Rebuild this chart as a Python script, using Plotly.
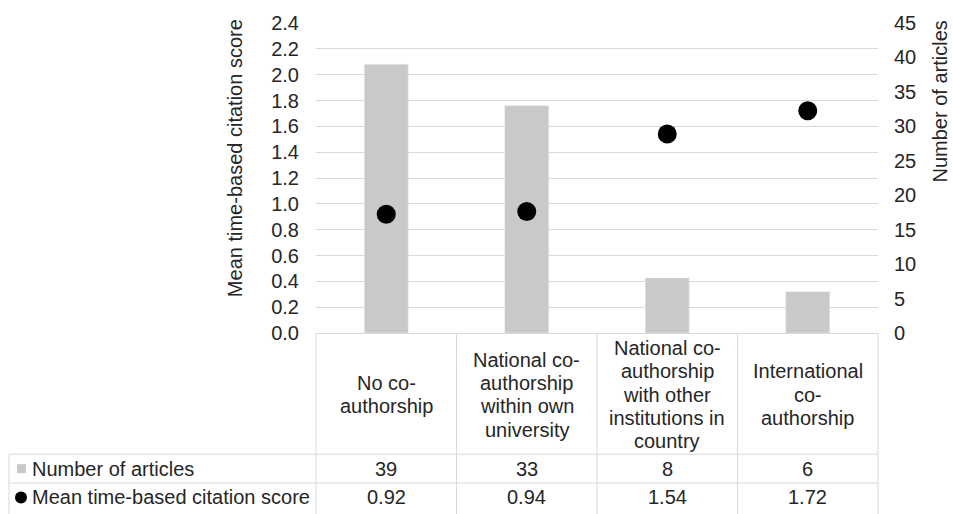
import plotly.graph_objects as go

categories = ["No co-authorship", "National co-authorship within own university",
              "National co-authorship with other institutions in country",
              "International co-authorship"]
category_lines = [["No co-", "authorship"],
                  ["National co-", "authorship", "within own", "university"],
                  ["National co-", "authorship", "with other", "institutions in", "country"],
                  ["International", "co-", "authorship"]]
num_articles = [39, 33, 8, 6]
mean_score = [0.92, 0.94, 1.54, 1.72]
row_names = ["Number of articles", "Mean time-based citation score"]

FONT = "Liberation Sans, Arial, sans-serif"
TXT = "#262626"
GRID = "#d9d9d9"
BAR = "#c9c9c9"
FS = 20

W, H = 953, 514
L, R, T, B = 316, 878, 21, 333


def px(x):
    return (x - L) / (R - L)


def py(y):
    return (B - y) / (B - T)


fig = go.Figure()
fig.add_trace(go.Bar(x=categories, y=num_articles, marker_color=BAR, yaxis="y",
                     name=row_names[0], showlegend=False))
fig.add_trace(go.Scatter(x=categories, y=mean_score, mode="markers", yaxis="y2",
                         marker=dict(color="black", size=19), name=row_names[1],
                         showlegend=False))

fig.update_layout(
    width=W, height=H,
    margin=dict(l=L, r=W - R, t=T, b=H - B),
    paper_bgcolor="white", plot_bgcolor="white",
    bargap=0.687,
    font=dict(family=FONT, size=FS, color=TXT),
    xaxis=dict(type="category", categoryorder="array", categoryarray=categories,
               range=[-0.5, 3.5], showticklabels=False, showgrid=False,
               zeroline=False, showline=True, linecolor=GRID, linewidth=1),
    yaxis=dict(side="right", range=[0, 45], dtick=5, showgrid=False, zeroline=False,
               showline=False, ticklabelstandoff=15,
               tickfont=dict(family=FONT, size=FS, color=TXT)),
    yaxis2=dict(side="left", overlaying="y", range=[0, 2.4], dtick=0.2,
                tickformat=".1f", showgrid=True, gridcolor=GRID, gridwidth=1,
                zeroline=False, showline=False, ticklabelstandoff=16,
                tickfont=dict(family=FONT, size=FS, color=TXT)),
)

annotations = []
# axis titles
annotations.append(dict(text="Mean time-based citation score", xref="paper", yref="paper",
                        x=px(235), y=py(157), textangle=-90, showarrow=False,
                        xanchor="center", yanchor="middle", font=dict(size=FS, color=TXT)))
annotations.append(dict(text="Number of articles", xref="paper", yref="paper",
                        x=px(940), y=py(100), textangle=-90, showarrow=False,
                        xanchor="center", yanchor="middle", font=dict(size=FS, color=TXT)))

# data table
ROW_CAT_C = 395.0
LINE_H = 23.5
row1_y = py(469.5)
row2_y = py(498.5)
for i, cat in enumerate(categories):
    lines = category_lines[i]
    n = len(lines)
    for k, ln in enumerate(lines):
        yc = ROW_CAT_C + (k - (n - 1) / 2) * LINE_H
        annotations.append(dict(text=ln, x=cat, xref="x", yref="paper",
                                y=py(yc), showarrow=False, xanchor="center",
                                yanchor="middle", font=dict(size=FS, color=TXT)))
    annotations.append(dict(text=str(num_articles[i]), x=cat, xref="x", yref="paper",
                            y=row1_y, showarrow=False, xanchor="center",
                            yanchor="middle", font=dict(size=FS, color=TXT)))
    annotations.append(dict(text=f"{mean_score[i]:.2f}", x=cat, xref="x", yref="paper",
                            y=row2_y, showarrow=False, xanchor="center",
                            yanchor="middle", font=dict(size=FS, color=TXT)))
annotations.append(dict(text=row_names[0], xref="paper", yref="paper", x=px(30), y=row1_y,
                        showarrow=False, xanchor="left", yanchor="middle",
                        font=dict(size=FS, color=TXT)))
annotations.append(dict(text=row_names[1], xref="paper", yref="paper", x=px(30), y=row2_y,
                        showarrow=False, xanchor="left", yanchor="middle",
                        font=dict(size=FS, color=TXT)))

shapes = []
line = dict(color=GRID, width=1)
# horizontal table lines
for yy in [455, 484]:
    shapes.append(dict(type="line", xref="paper", yref="paper", x0=px(9), x1=1,
                       y0=py(yy), y1=py(yy), line=line))
# vertical table lines
shapes.append(dict(type="line", xref="paper", yref="paper", x0=px(9), x1=px(9),
                   y0=py(455), y1=py(516), line=line))
for xx in [0, 1]:
    shapes.append(dict(type="line", xref="paper", yref="paper", x0=xx, x1=xx,
                       y0=0, y1=py(516), line=line))
for b in [0.5, 1.5, 2.5]:
    shapes.append(dict(type="line", xref="x", yref="paper", x0=b, x1=b,
                       y0=0, y1=py(516), line=line))
# legend keys
shapes.append(dict(type="rect", xref="paper", yref="paper", x0=px(17), x1=px(26),
                   y0=py(465), y1=py(474), fillcolor=BAR, line=dict(width=0)))
shapes.append(dict(type="circle", xref="paper", yref="paper", x0=px(15), x1=px(27),
                   y0=py(492.5), y1=py(504.5), fillcolor="black", line=dict(width=0)))

fig.update_layout(annotations=annotations, shapes=shapes)
fig.write_html("out.html", config={"displayModeBar": False},
               post_script="document.body.style.margin='0';document.body.style.overflow='hidden';")
